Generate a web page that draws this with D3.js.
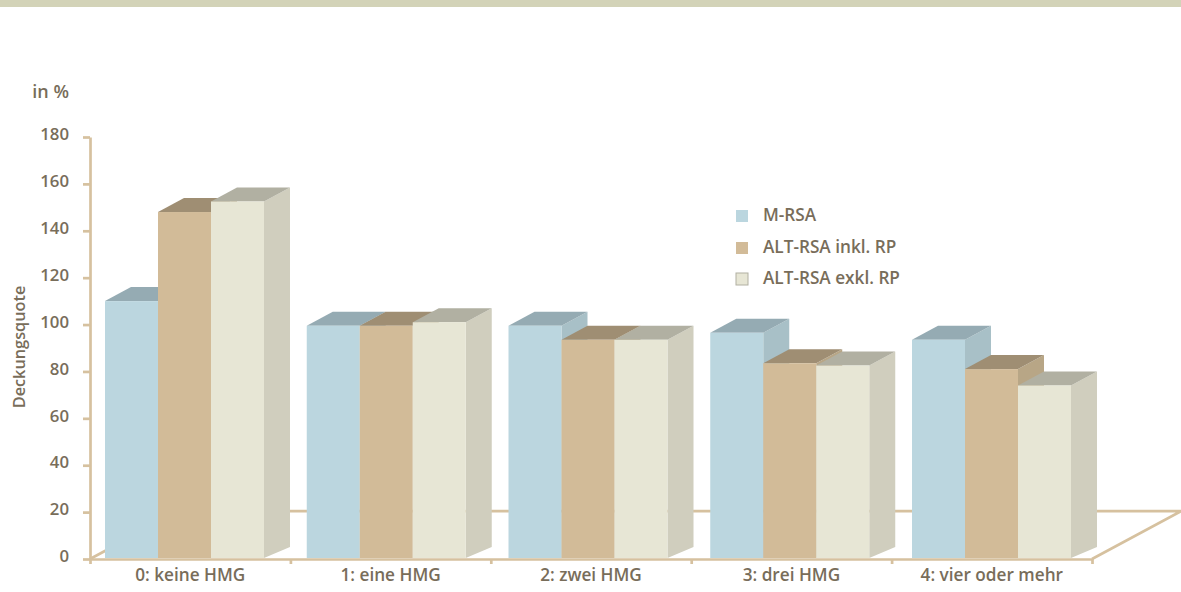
<!DOCTYPE html>
<html lang="de">
<head>
<meta charset="utf-8">
<title>Deckungsquote</title>
<script src="https://cdn.jsdelivr.net/npm/d3@7/dist/d3.min.js"></script>
<style>
  html, body { margin: 0; padding: 0; background: #fff; }
  svg { display: block; }
  text { font-family: "Open Sans", sans-serif; font-weight: 600; fill: #786d5a; }
</style>
</head>
<body>
<svg id="chart" width="1181" height="592"></svg>
<script>
const categories = ["0: keine HMG", "1: eine HMG", "2: zwei HMG", "3: drei HMG", "4: vier oder mehr"];
const seriesNames = ["M-RSA", "ALT-RSA inkl. RP", "ALT-RSA exkl. RP"];
const mRsa = [110, 99.5, 99.5, 96.5, 93.5];
const altInkl = [148, 99.5, 93.5, 83.5, 81];
const altExkl = [152.5, 101, 93.5, 82.5, 74];
const yTicks = [0, 20, 40, 60, 80, 100, 120, 140, 160, 180];

const frontColors = ["#bbd6df", "#d2bb98", "#e7e6d5"];
const topColors = ["#95abb3", "#9f8e73", "#b1b0a2"];
const sideColors = ["#a8c0c7", "#b8a686", "#d0cebe"];
const axisColor = "#d6c19f";
const fontSize = 17.2;

const svg = d3.select("#chart");
const depthX = 26, depthTop = 14, depthBottom = 11;

svg.append("rect").attr("x", 0).attr("y", 0).attr("width", 1181).attr("height", 7).attr("fill", "#d3d3b8");

const y = d3.scaleLinear().domain([0, 180]).range([559, 137]);
const x = d3.scaleBand().domain(categories).range([90, 1092]);
const xEdges = d3.scaleLinear().domain([0, categories.length]).range([90, 1092]);
// The bars sit on a slightly wider pitch than the labelled axis
const groupX = d3.scaleBand().domain(categories).range([105, 1113.75]);
const barX = d3.scaleBand().domain(seriesNames).range([0, 159]);

// Floor of the chart: back edge and the two receding sides
const floorBack = y(20) - 1;
svg.append("path")
  .attr("d", d3.line()([[90, y(0)], [179, floorBack], [1181, floorBack], [1092, y(0)]]))
  .attr("fill", "none").attr("stroke", axisColor).attr("stroke-width", 2.7);

// Axes
const styleAxis = g => {
  g.selectAll("line, path").attr("stroke", axisColor).attr("stroke-width", 2.7);
};
const yAxis = svg.append("g").attr("transform", "translate(90,0)")
  .call(d3.axisLeft(y).tickValues(yTicks).tickSize(7).tickPadding(14).tickSizeOuter(0))
  .call(styleAxis);
yAxis.attr("font-family", null);
yAxis.selectAll("text").attr("font-size", 16.8).attr("dy", "0.16em");

svg.append("g").attr("transform", `translate(0,${y(0)})`)
  .call(d3.axisBottom(xEdges).ticks(categories.length).tickSize(5).tickSizeOuter(0).tickFormat(""))
  .call(styleAxis);

const xAxis = svg.append("g").attr("transform", `translate(0,${y(0)})`)
  .call(d3.axisBottom(x).tickSize(0).tickPadding(10));
xAxis.select("path").remove();
xAxis.attr("font-family", null);
xAxis.selectAll("text").attr("font-size", fontSize);

// Extruded bars: later series paint over the sides of earlier ones
const seriesValues = [mRsa, altInkl, altExkl];
const base = y(0) - 1;
categories.forEach((cat, c) => {
  const g = svg.append("g").attr("transform", `translate(${groupX(cat)},0)`);
  seriesNames.forEach((name, s) => {
    const v = seriesValues[s][c];
    const x0 = barX(name), x1 = x0 + barX.bandwidth(), top = y(v);
    g.append("path")
      .attr("d", d3.line()([[x1, top], [x1 + depthX, top - depthTop], [x1 + depthX, base - depthBottom], [x1, base]]) + "Z")
      .attr("fill", sideColors[s]);
    g.append("path")
      .attr("d", d3.line()([[x0, top], [x0 + depthX, top - depthTop], [x1 + depthX, top - depthTop], [x1, top]]) + "Z")
      .attr("fill", topColors[s]);
    g.append("rect")
      .attr("x", x0).attr("y", top).attr("width", barX.bandwidth()).attr("height", base - top)
      .attr("fill", frontColors[s]);
  });
});

// Legend
const legendRows = [216, 248, 279];
seriesNames.forEach((name, i) => {
  const r = svg.append("rect")
    .attr("x", 736).attr("y", legendRows[i] - 6).attr("width", 12).attr("height", 12)
    .attr("fill", frontColors[i]);
  if (i === 2) r.attr("stroke", topColors[2]).attr("stroke-width", 1);
  svg.append("text").attr("x", 763).attr("y", legendRows[i] + 5).attr("font-size", fontSize).text(name);
});

// Axis captions
svg.append("text").attr("x", 69).attr("y", 98).attr("text-anchor", "end").attr("font-size", 18).text("in %");
svg.append("text")
  .attr("transform", "translate(25,347) rotate(-90)")
  .attr("text-anchor", "middle").attr("font-size", 16.3).text("Deckungsquote");
</script>
</body>
</html>
